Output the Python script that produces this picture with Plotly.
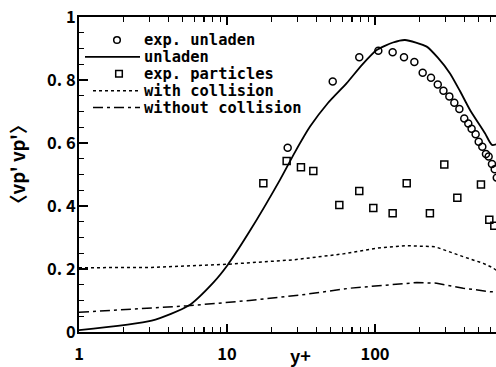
import plotly.graph_objects as go

# ---------------- data ----------------
unladen_x = [1, 3.1, 5.48, 8.08, 10.1, 14.15, 22.8, 28.8, 36.4, 48.1, 64.4, 81.7, 102.7,
             132.3, 159.5, 223.6, 266.6, 321.3, 375.2, 438.5, 553.5, 617, 700]
unladen_y = [0.006, 0.036, 0.083, 0.157, 0.213, 0.318, 0.483, 0.571, 0.652, 0.727, 0.790,
             0.848, 0.895, 0.919, 0.927, 0.906, 0.870, 0.821, 0.765, 0.705, 0.631, 0.594, 0.60]

exp_unladen_x = [25.7, 51.8, 78.3, 105.3, 131.6, 157, 184.5, 210, 239, 265.5, 290, 318, 343.6,
                 371.6, 401, 427, 449.5, 478.6, 502, 531, 562, 586, 617, 644, 665]
exp_unladen_y = [0.585, 0.795, 0.872, 0.893, 0.888, 0.872, 0.857, 0.823, 0.807, 0.786, 0.766,
                 0.748, 0.728, 0.708, 0.678, 0.662, 0.645, 0.628, 0.604, 0.588, 0.565, 0.557,
                 0.533, 0.517, 0.49]

exp_part_x = [17.6, 25.3, 31.6, 38.3, 57.4, 78.3, 97.4, 131.6, 163.8, 235, 294, 360, 520, 592, 640]
exp_part_y = [0.472, 0.543, 0.523, 0.511, 0.403, 0.448, 0.394, 0.377, 0.472, 0.377, 0.532,
              0.426, 0.468, 0.356, 0.337]

with_coll_x = [1, 3.1, 10, 14.2, 28, 61, 102.6, 163.8, 254, 395, 539, 620, 660]
with_coll_y = [0.204, 0.205, 0.215, 0.220, 0.229, 0.248, 0.266, 0.274, 0.271, 0.239, 0.218,
               0.205, 0.196]

without_coll_x = [1, 3, 5.4, 14.2, 31, 67.6, 113.7, 191.7, 261, 395, 598, 660]
without_coll_y = [0.0625, 0.075, 0.083, 0.10, 0.117, 0.139, 0.149, 0.157, 0.155, 0.139, 0.128, 0.128]

x_tickvals = [1, 10, 100]
x_ticktext = ["1", "10", "100"]
x_minor = [2, 3, 4, 5, 6, 7, 8, 9, 20, 30, 40, 50, 60, 70, 80, 90, 200, 300, 400, 500, 600]
y_tickvals = [0, 0.2, 0.4, 0.6, 0.8, 1.0]
y_ticktext = ["0", "0. 2", "0. 4", "0. 6", "0. 8", "1"]
y_minor = [i * 0.05 for i in range(21)]

legend_labels = ["exp. unladen", "unladen", "exp. particles", "with collision", "without collision"]

# ---------------- layout geometry ----------------
W, H = 496, 367
ML, MR, MT, MB = 79, 0, 17, 35
PW, PH = W - ML - MR, H - MT - MB


def px(x):
    """page pixel x -> paper fraction"""
    return (x - ML) / PW


def py(y):
    """page pixel y -> paper fraction"""
    return (H - MB - y) / PH


TICKFONT = dict(family="Noto Sans CJK JP", size=16.5, color="black", weight="bold")
LEGFONT = dict(family="DejaVu Sans Mono", size=15.4, color="black", weight="bold")

DOT = "3px,3px"
DASHDOT = "10px,4px,3px,4px"

fig = go.Figure()
fig.add_trace(go.Scatter(x=exp_unladen_x, y=exp_unladen_y, mode="markers",
                         marker=dict(symbol="circle-open", size=7, color="black",
                                     line=dict(width=1.5, color="black"))))
fig.add_trace(go.Scatter(x=unladen_x, y=unladen_y, mode="lines",
                         line=dict(color="black", width=1.8, shape="spline", smoothing=0.6)))
fig.add_trace(go.Scatter(x=exp_part_x, y=exp_part_y, mode="markers",
                         marker=dict(symbol="square-open", size=7, color="black",
                                     line=dict(width=1.5, color="black"))))
fig.add_trace(go.Scatter(x=with_coll_x, y=with_coll_y, mode="lines",
                         line=dict(color="black", width=1.5, dash=DOT)))
fig.add_trace(go.Scatter(x=without_coll_x, y=without_coll_y, mode="lines",
                         line=dict(color="black", width=1.5, dash=DASHDOT)))

# ---------------- manual legend ----------------
rows = [40 + 16.9 * i for i in range(5)]
shapes = []
shapes.append(dict(type="circle", xref="paper", yref="paper", xsizemode="pixel", ysizemode="pixel",
                   xanchor=px(117), yanchor=py(rows[0]), x0=-3.3, x1=3.3, y0=-3.3, y1=3.3,
                   line=dict(color="black", width=1.5)))
shapes.append(dict(type="line", xref="paper", yref="paper", x0=px(85), x1=px(140),
                   y0=py(rows[1]), y1=py(rows[1]), line=dict(color="black", width=1.8)))
shapes.append(dict(type="rect", xref="paper", yref="paper", xsizemode="pixel", ysizemode="pixel",
                   xanchor=px(119), yanchor=py(rows[2]), x0=-3.3, x1=3.3, y0=-3.3, y1=3.3,
                   line=dict(color="black", width=1.5)))
shapes.append(dict(type="line", xref="paper", yref="paper", x0=px(93), x1=px(140),
                   y0=py(rows[3]), y1=py(rows[3]), line=dict(color="black", width=1.5, dash=DOT)))
shapes.append(dict(type="line", xref="paper", yref="paper", x0=px(93), x1=px(140),
                   y0=py(rows[4]), y1=py(rows[4]), line=dict(color="black", width=1.5, dash=DASHDOT)))

annotations = []
for lab, ry in zip(legend_labels, rows):
    annotations.append(dict(text=lab, xref="paper", yref="paper", x=px(142), y=py(ry),
                            xanchor="left", yanchor="middle", showarrow=False, font=LEGFONT))

annotations.append(dict(text="〈vp' vp'〉", xref="paper", yref="paper", x=px(17), y=py(164),
                        textangle=-90, xanchor="center", yanchor="middle", showarrow=False,
                        font=dict(family="Noto Sans CJK JP", size=18.5, color="black", weight="bold")))
annotations.append(dict(text="y+", xref="paper", yref="paper", x=px(300), y=py(355),
                        xanchor="center", yanchor="middle", showarrow=False,
                        font=dict(family="Noto Sans CJK JP", size=18, color="black", weight="bold")))

fig.update_layout(
    width=W, height=H,
    margin=dict(l=ML, r=MR, t=MT, b=MB, pad=0),
    paper_bgcolor="white", plot_bgcolor="white",
    showlegend=False,
    hovermode=False,
    shapes=shapes,
    annotations=annotations,
    xaxis=dict(type="log", range=[0, 2.8176], showgrid=False, zeroline=False,
               showline=True, linecolor="black", linewidth=2, mirror="ticks",
               ticks="inside", ticklen=8, tickwidth=1.5, tickcolor="black",
               tickmode="array", tickvals=x_tickvals, ticktext=x_ticktext,
               tickfont=TICKFONT, ticklabelstandoff=6, ticklabeloverflow="allow",
               minor=dict(tickmode="array", tickvals=x_minor, ticks="inside", ticklen=5,
                          tickwidth=1.2, tickcolor="black", showgrid=False)),
    yaxis=dict(range=[0, 1], showgrid=False, zeroline=False,
               showline=True, linecolor="black", linewidth=2, mirror=False,
               ticks="inside", ticklen=9, tickwidth=1.5, tickcolor="black",
               tickmode="array", tickvals=y_tickvals, ticktext=y_ticktext,
               tickfont=TICKFONT, ticklabelstandoff=-2, ticklabeloverflow="allow",
               minor=dict(tickmode="array", tickvals=y_minor, ticks="inside", ticklen=5,
                          tickwidth=1.2, tickcolor="black", showgrid=False)),
)

# remove the browser's default 8px body margin so the figure sits at the page origin
fig.write_html("out.html", config={"displayModeBar": False, "staticPlot": True},
               post_script="document.body.style.margin='0px';")
